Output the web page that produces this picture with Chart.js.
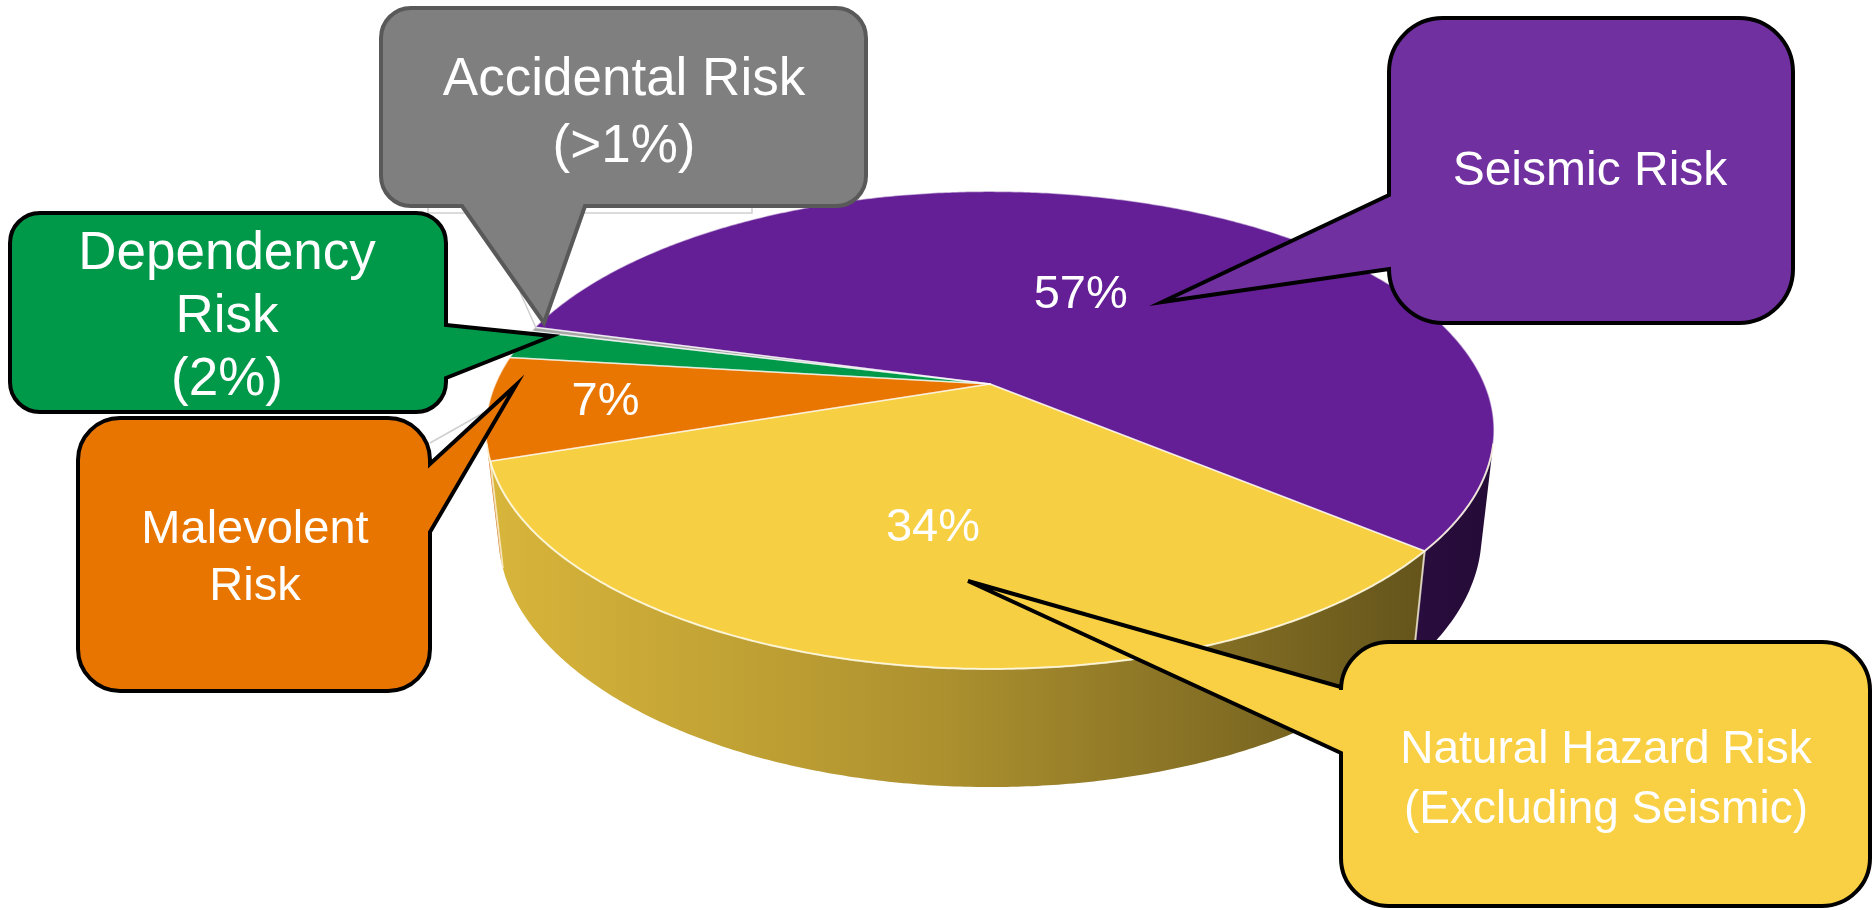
<!DOCTYPE html>
<html>
<head>
<meta charset="utf-8">
<title>Risk breakdown</title>
<script src="https://cdn.jsdelivr.net/npm/chart.js@4.4.1/dist/chart.umd.min.js"></script>
<style>
  html, body { margin: 0; padding: 0; background: #fff; }
  #wrap { width: 1874px; height: 910px; }
</style>
</head>
<body>
<div id="wrap"><canvas id="risk-pie" width="1874" height="910"></canvas></div>
<script>
// Risk shares
var categories = ["Seismic Risk", "Natural Hazard Risk (Excluding Seismic)", "Malevolent Risk", "Dependency Risk", "Accidental Risk"];
var shares = [57, 34, 7, 2, 0.3];
var sliceColors = ['#641f96', '#f7cf43', '#e97600', '#00994a', '#a6a6a6'];

// Callout captions, one list of lines per category
var calloutLines = [
    ["Seismic Risk"],
    ["Natural Hazard Risk", "(Excluding Seismic)"],
    ["Malevolent", "Risk"],
    ["Dependency", "Risk", "(2%)"],
    ["Accidental Risk", "(>1%)"]
];

var FONT = '"Liberation Sans", Arial, sans-serif';

// 3d view of the pie: apex on screen, focal length, camera distance (in radii), tilt and thickness
var view = { cx: 990, cy: 384, focal: 2265, dist: 4.58, tilt: 27.7 * Math.PI / 180, depth: 0.24 };

function project(rho, theta, z) {
    var c = Math.cos(view.tilt), s = Math.sin(view.tilt);
    var u = rho * Math.cos(theta), v = rho * Math.sin(theta);
    var d = view.dist - v * c - z * s;
    return [view.cx + view.focal * u / d, view.cy + view.focal * (v * s - z * c) / d];
}

function shade(hex, f) {
    var n = parseInt(hex.slice(1), 16);
    var r = Math.round(((n >> 16) & 255) * f), g = Math.round(((n >> 8) & 255) * f), b = Math.round((n & 255) * f);
    return 'rgb(' + r + ',' + g + ',' + b + ')';
}

// parts of [a0, a1] where the outer wall faces the camera
function wallRanges(a0, a1) {
    var lim = Math.asin(1 / (view.dist * Math.cos(view.tilt)));
    var out = [];
    for (var k = -1; k <= 2; k++) {
        var s = Math.max(a0, lim + k * 2 * Math.PI), e = Math.min(a1, Math.PI - lim + k * 2 * Math.PI);
        if (e > s) out.push([s, e]);
    }
    return out;
}

function steps(a0, a1) {
    return Math.max(2, Math.ceil((a1 - a0) / (Math.PI / 360)));
}

function drawWall(ctx, a0, a1, color) {
    var n = steps(a0, a1), i, p;
    ctx.beginPath();
    for (i = 0; i <= n; i++) {
        p = project(1, a0 + (a1 - a0) * i / n, 0);
        i ? ctx.lineTo(p[0], p[1]) : ctx.moveTo(p[0], p[1]);
    }
    for (i = n; i >= 0; i--) {
        p = project(1, a0 + (a1 - a0) * i / n, -view.depth);
        ctx.lineTo(p[0], p[1]);
    }
    ctx.closePath();
    var grad = ctx.createLinearGradient(480, 0, 1500, 0);
    grad.addColorStop(0, shade(color, 0.88));
    grad.addColorStop(0.45, shade(color, 0.7));
    grad.addColorStop(1, shade(color, 0.36));
    ctx.fillStyle = grad;
    ctx.fill();
}

function topPath(ctx, a0, a1) {
    var n = steps(a0, a1), o = project(0, 0, 0);
    ctx.beginPath();
    ctx.moveTo(o[0], o[1]);
    for (var i = 0; i <= n; i++) {
        var p = project(1, a0 + (a1 - a0) * i / n, 0);
        ctx.lineTo(p[0], p[1]);
    }
    ctx.closePath();
}

function rimStroke(ctx, a0, a1) {
    var n = steps(a0, a1);
    ctx.beginPath();
    for (var i = 0; i <= n; i++) {
        var p = project(1, a0 + (a1 - a0) * i / n, 0);
        i ? ctx.lineTo(p[0], p[1]) : ctx.moveTo(p[0], p[1]);
    }
    ctx.stroke();
}

// where the percentage of each labelled slice sits: radius and angle nudge
var labelPlace = [[0.47, -0.04], [0.56, 0], [0.77, 0.01]];

var pie3d = {
    id: 'pie3d',
    beforeDatasetsDraw: function(chart) {
        var ctx = chart.ctx;
        var arcs = chart.getDatasetMeta(0).data;
        var total = shares.reduce(function(a, b) { return a + b; }, 0);
        ctx.save();
        arcs.forEach(function(arc, i) {
            wallRanges(arc.startAngle, arc.endAngle).forEach(function(r) {
                drawWall(ctx, r[0], r[1], sliceColors[i]);
            });
        });
        arcs.forEach(function(arc, i) {
            topPath(ctx, arc.startAngle, arc.endAngle);
            ctx.fillStyle = sliceColors[i];
            ctx.fill();
        });
        ctx.lineJoin = 'round';
        ctx.strokeStyle = 'rgba(255,255,255,0.55)';
        ctx.lineWidth = 1.5;
        arcs.forEach(function(arc) {
            topPath(ctx, arc.startAngle, arc.endAngle);
            ctx.stroke();
        });
        ctx.strokeStyle = 'rgba(255,250,225,0.75)';
        ctx.lineWidth = 2;
        arcs.forEach(function(arc) {
            wallRanges(arc.startAngle, arc.endAngle).forEach(function(r) {
                rimStroke(ctx, r[0], r[1]);
            });
        });
        // slice edges running down the wall
        arcs.forEach(function(arc) {
            var a = arc.startAngle;
            if (wallRanges(a - 0.001, a + 0.001).length) {
                var p = project(1, a, 0), q = project(1, a, -view.depth);
                ctx.beginPath(); ctx.moveTo(p[0], p[1]); ctx.lineTo(q[0], q[1]); ctx.stroke();
            }
        });
        // percentages
        ctx.fillStyle = '#fff';
        ctx.font = '47px ' + FONT;
        ctx.textAlign = 'center';
        ctx.textBaseline = 'middle';
        labelPlace.forEach(function(lp, i) {
            var arc = arcs[i];
            var p = project(lp[0], (arc.startAngle + arc.endAngle) / 2 + lp[1], 0);
            ctx.fillText(Math.round(shares[i] / total * 100) + '%', p[0], p[1] + 2);
        });
        ctx.restore();
        return false;
    },
    afterDraw: function(chart) {
        var ctx = chart.ctx;
        ctx.save();
        // faint leader lines left over from the data labels
        ctx.strokeStyle = '#cfcfcf';
        ctx.lineWidth = 1.5;
        ctx.strokeRect(428, 160, 324, 53);
        ctx.beginPath();
        ctx.moveTo(520, 292); ctx.lineTo(536, 328);
        ctx.moveTo(430, 443); ctx.lineTo(492, 408);
        ctx.stroke();
        callouts.forEach(function(c) { drawCallout(ctx, c); });
        ctx.restore();
    }
};

// rounded box with a wedge pointing at its slice
function drawCallout(ctx, c) {
    var x = c.box[0], y = c.box[1], w = c.box[2], h = c.box[3], r = c.radius;
    var p = c.pointer;
    ctx.beginPath();
    ctx.moveTo(x + r, y);
    ctx.lineTo(x + w - r, y);
    ctx.arcTo(x + w, y, x + w, y + r, r);
    if (p.side === 'right') {
        ctx.lineTo(x + w, p.from); ctx.lineTo(p.tip[0], p.tip[1]); ctx.lineTo(x + w, p.to);
    }
    ctx.lineTo(x + w, y + h - r);
    ctx.arcTo(x + w, y + h, x + w - r, y + h, r);
    if (p.side === 'bottom') {
        ctx.lineTo(p.to, y + h); ctx.lineTo(p.tip[0], p.tip[1]); ctx.lineTo(p.from, y + h);
    }
    ctx.lineTo(x + r, y + h);
    ctx.arcTo(x, y + h, x, y + h - r, r);
    if (p.side === 'left') {
        ctx.lineTo(x, p.to); ctx.lineTo(p.tip[0], p.tip[1]); ctx.lineTo(x, p.from);
    }
    ctx.lineTo(x, y + r);
    ctx.arcTo(x, y, x + r, y, r);
    ctx.closePath();
    ctx.fillStyle = c.fill;
    ctx.fill();
    ctx.lineJoin = 'miter';
    ctx.lineWidth = 4;
    ctx.strokeStyle = c.stroke;
    ctx.stroke();

    ctx.fillStyle = '#fff';
    ctx.font = c.fontSize + 'px ' + FONT;
    ctx.textAlign = 'center';
    ctx.textBaseline = 'middle';
    calloutLines[c.index].forEach(function(line, i) {
        ctx.fillText(line, c.text[0], c.text[1] + i * c.lineHeight);
    });
}

var callouts = [
    { index: 0, box: [1389, 18, 404, 305], radius: 54, fill: '#7030a0', stroke: '#000',
      pointer: { side: 'left', from: 195, to: 269, tip: [1162, 302] },
      text: [1590, 172], fontSize: 48, lineHeight: 58 },
    { index: 1, box: [1341, 642, 529, 264], radius: 48, fill: '#f9d043', stroke: '#000',
      pointer: { side: 'left', from: 687, to: 753, tip: [968, 581] },
      text: [1606, 750], fontSize: 46, lineHeight: 60 },
    { index: 2, box: [78, 418, 352, 273], radius: 42, fill: '#e87500', stroke: '#000',
      pointer: { side: 'right', from: 464, to: 532, tip: [516, 385] },
      text: [255, 530], fontSize: 47, lineHeight: 57 },
    { index: 3, box: [10, 213, 436, 199], radius: 30, fill: '#00994a', stroke: '#000',
      pointer: { side: 'right', from: 325, to: 378, tip: [552, 336] },
      text: [227, 254], fontSize: 53, lineHeight: 63 },
    { index: 4, box: [381, 8, 485, 198], radius: 30, fill: '#7f7f7f', stroke: '#595959',
      pointer: { side: 'bottom', from: 462, to: 585, tip: [544, 323] },
      text: [624, 80], fontSize: 53, lineHeight: 67 }
];

var riskChart = new Chart(document.getElementById('risk-pie').getContext('2d'), {
    type: 'pie',
    data: {
        labels: categories,
        datasets: [{
            data: shares,
            backgroundColor: sliceColors,
            borderWidth: 0
        }]
    },
    options: {
        responsive: false,
        animation: false,
        events: [],
        rotation: 285,
        plugins: {
            legend: { display: false },
            tooltip: { enabled: false }
        }
    },
    plugins: [pie3d]
});
</script>
</body>
</html>
